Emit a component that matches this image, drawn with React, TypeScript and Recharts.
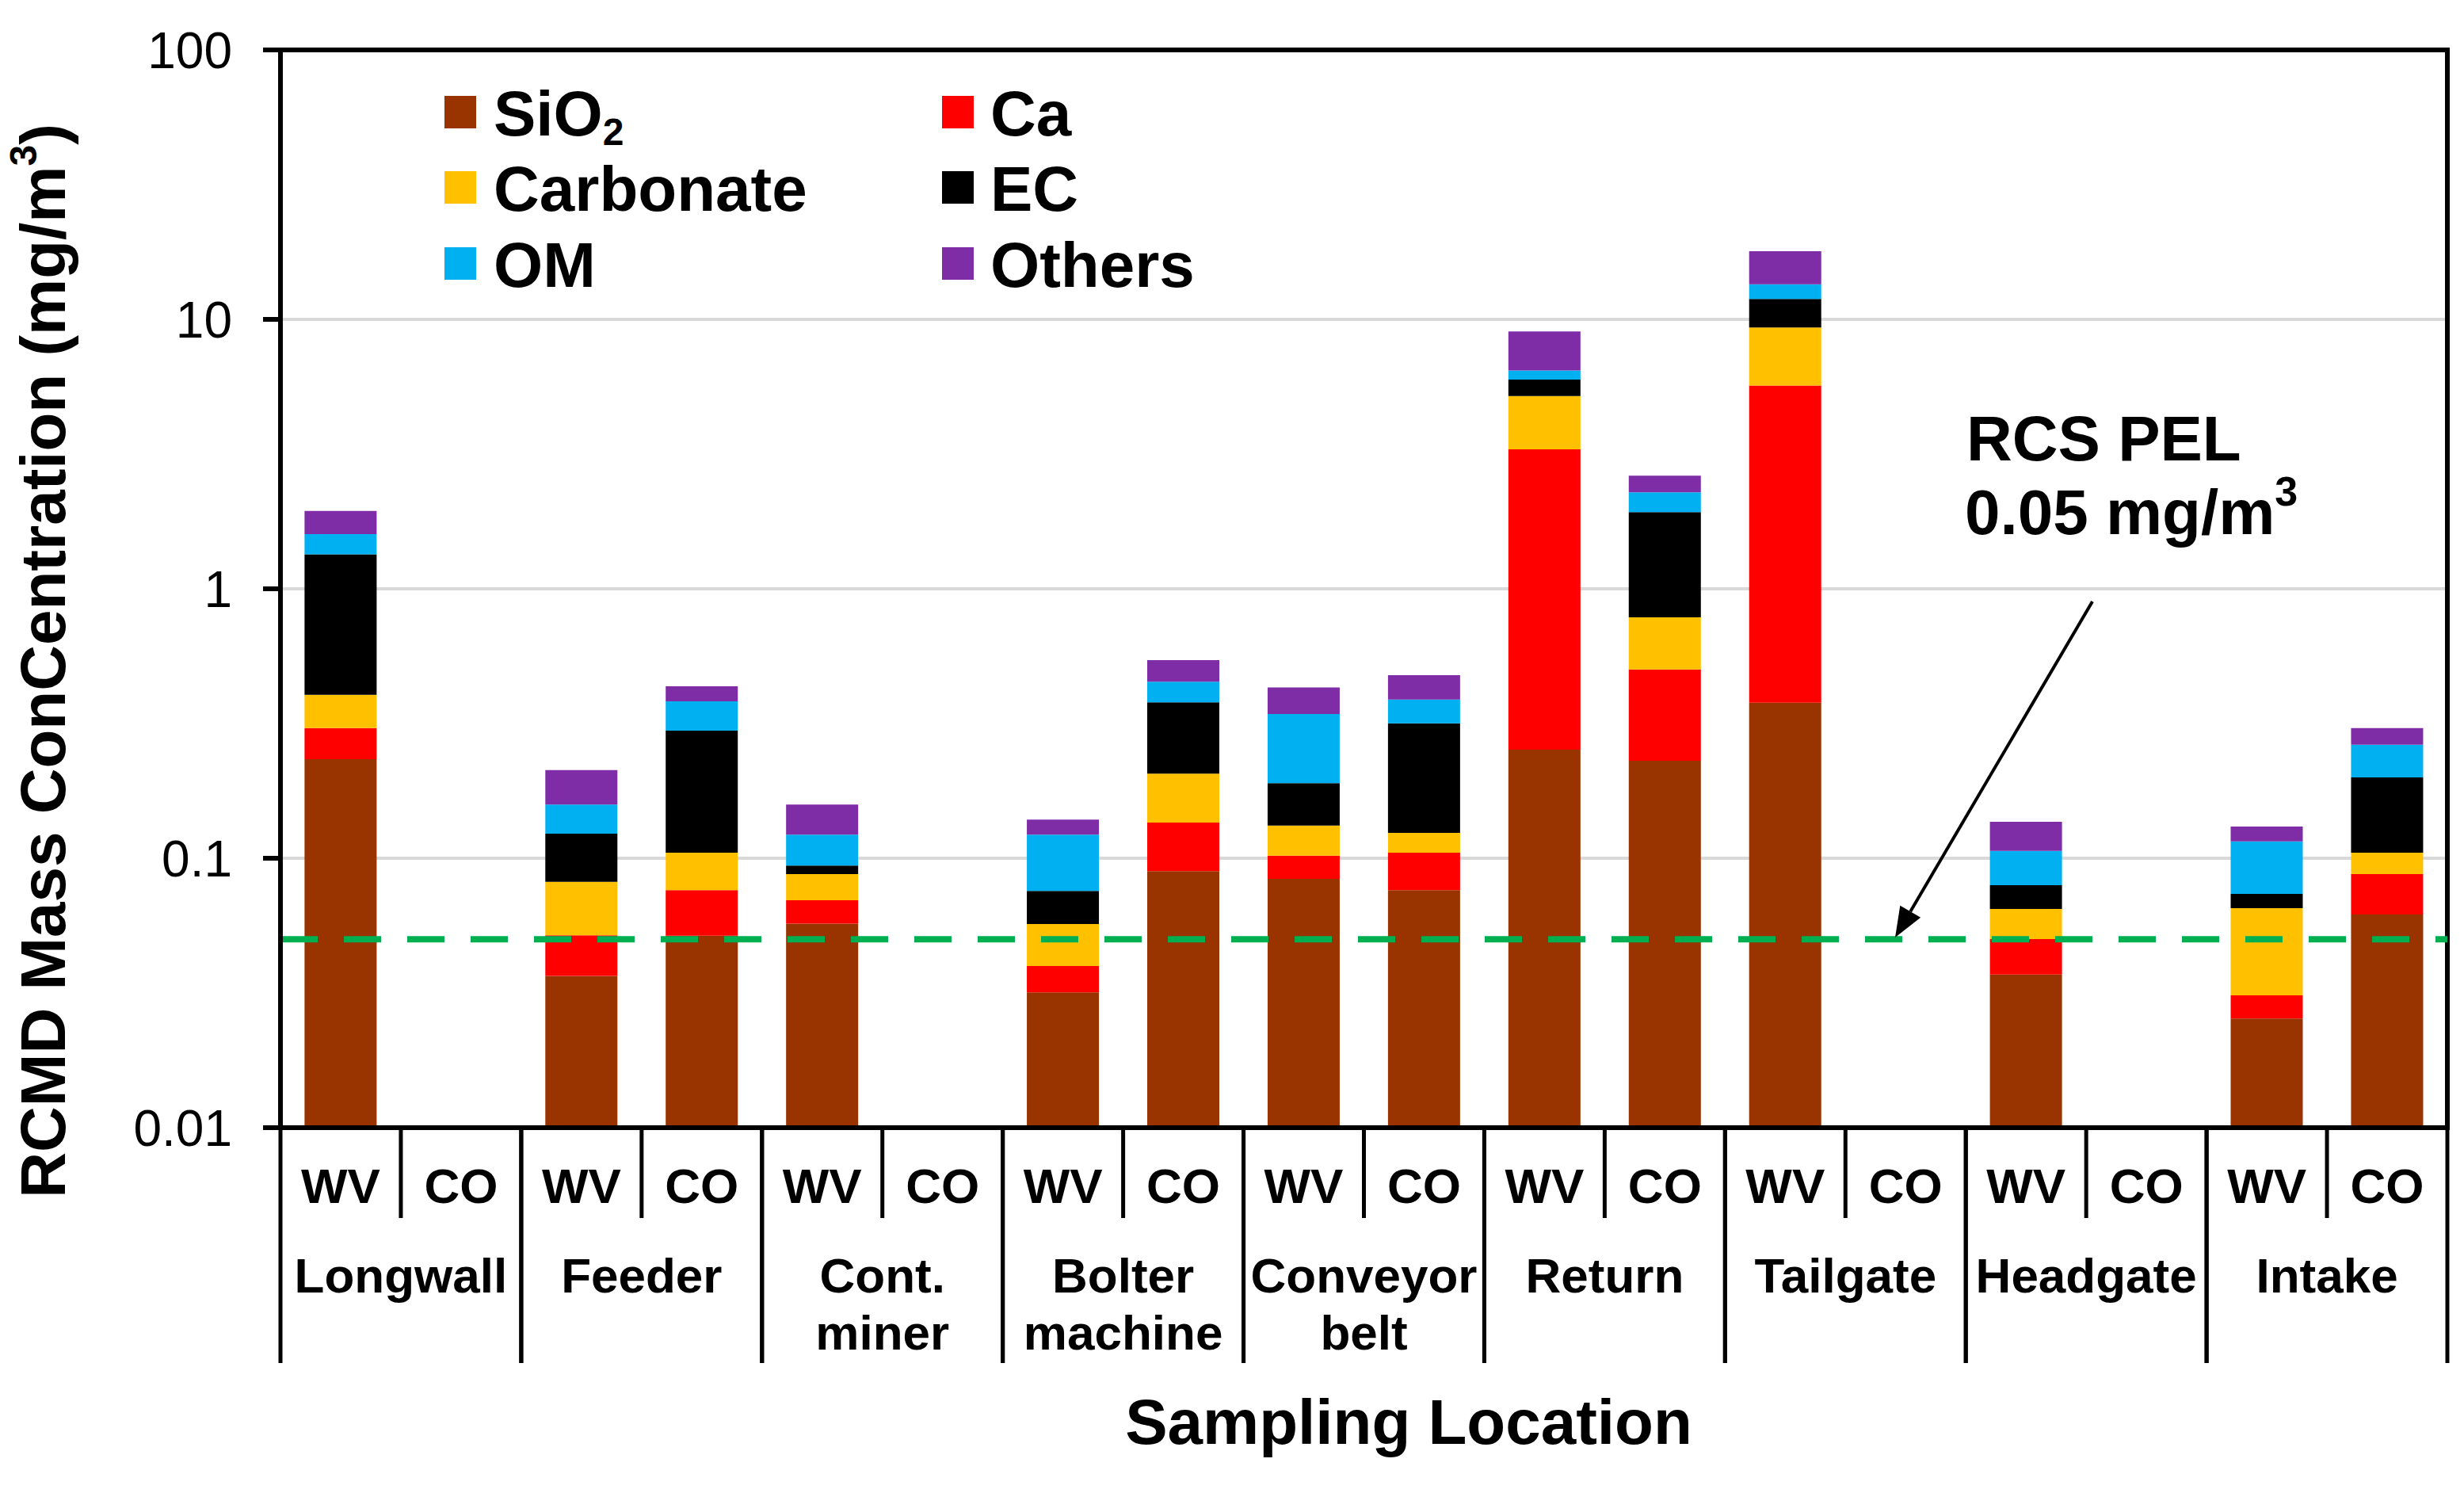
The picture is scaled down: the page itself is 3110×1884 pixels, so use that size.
import React from 'react';
import { Bar, BarChart, CartesianGrid, ReferenceArea, ReferenceLine, XAxis, YAxis } from 'recharts';

const W = 3110;
const H = 1884;
const PLOT_LEFT = 354;
const PLOT_RIGHT = 3089;
const PLOT_TOP = 63;
const PLOT_BOTTOM = 1423;
const FONT = '"Liberation Sans", Arial, Helvetica, sans-serif';

const GROUPS = ['Longwall', 'Feeder', 'Cont.\nminer', 'Bolter\nmachine', 'Conveyor\nbelt', 'Return', 'Tailgate', 'Headgate', 'Intake'];
const METHODS = ['WV', 'CO'];
const Y_TICKS = [0.01, 0.1, 1, 10, 100];
const PEL = 0.05;

// mg/m3, one entry per WV/CO slot (null = not sampled)
const SIO2 = [0.233, null, 0.0366, 0.0516, 0.0572, null, 0.0318, 0.0896, 0.0838, 0.0762, 0.253, 0.23, 0.378, null, 0.037, null, 0.0254, 0.0618];
const CA = [0.071, null, 0.0152, 0.0246, 0.0126, null, 0.008, 0.0461, 0.0184, 0.0287, 3.04, 0.272, 5.3, null, 0.0131, null, 0.0056, 0.0255];
const CARBONATE = [0.1, null, 0.0299, 0.0286, 0.0175, null, 0.0172, 0.0703, 0.03, 0.0193, 1.9, 0.282, 3.65, null, 0.0147, null, 0.0343, 0.0176];
const EC = [0.938, null, 0.0416, 0.1929, 0.0066, null, 0.0186, 0.173, 0.0578, 0.1928, 0.78, 1.141, 2.57, null, 0.0146, null, 0.0084, 0.0946];
const OM = [0.253, null, 0.0349, 0.0843, 0.0285, null, 0.0468, 0.073, 0.153, 0.071, 0.49, 0.355, 1.6, null, 0.027, null, 0.0417, 0.0642];
const OTHERS = [0.349, null, 0.0541, 0.0525, 0.0358, null, 0.0168, 0.092, 0.087, 0.09, 2.55, 0.35, 4.4, null, 0.0302, null, 0.0158, 0.0403];

const SERIES = [
  { key: 'SiO2', color: '#993300', values: SIO2 },
  { key: 'Ca', color: '#FF0000', values: CA },
  { key: 'Carbonate', color: '#FFC000', values: CARBONATE },
  { key: 'EC', color: '#000000', values: EC },
  { key: 'OM', color: '#00B0F0', values: OM },
  { key: 'Others', color: '#7F2DA6', values: OTHERS },
];

const ROWS = GROUPS.flatMap((group, gi) =>
  METHODS.map((method, mi) => {
    const i = gi * 2 + mi;
    const row: any = { key: `${group} ${method}`, group, method };
    SERIES.forEach((s) => {
      row[s.key] = s.values[i];
    });
    return row;
  })
);

const SLOT = (PLOT_RIGHT - PLOT_LEFT) / ROWS.length;

function CategoryTick({ x, y, index }: any) {
  const row = ROWS[index];
  if (!row) return null;
  const h = SLOT / 2;
  const lines = row.group.split('\n');
  const textProps = { textAnchor: 'middle' as const, fontSize: 62, fontWeight: 'bold', fontFamily: FONT, fill: '#000' };
  return (
    <g>
      <text x={x} y={y + 95} {...textProps}>
        {row.method}
      </text>
      {row.method === 'WV' ? (
        <>
          <line x1={x + h} x2={x + h} y1={y} y2={y + 114} stroke="#000" strokeWidth={5} />
          <line x1={x - h} x2={x - h} y1={y} y2={y + 297} stroke="#000" strokeWidth={5} />
          <text {...textProps}>
            {lines.map((l: string, k: number) => (
              <tspan key={k} x={x + h} y={y + 208 + k * 72}>
                {l}
              </tspan>
            ))}
          </text>
        </>
      ) : (
        <line x1={x + h} x2={x + h} y1={y} y2={y + 297} stroke="#000" strokeWidth={5} />
      )}
    </g>
  );
}

const yTitle = () => (
  <text
    x={82}
    y={834}
    transform="rotate(-90 82 834)"
    textAnchor="middle"
    fontSize={80}
    fontWeight="bold"
    fontFamily={FONT}
    fill="#000"
  >
    RCMD Mass ConCentration (mg/m
    <tspan fontSize={48} dy={-36}>
      3
    </tspan>
    <tspan dy={36}>)</tspan>
  </text>
);

const xTitle = () => (
  <text x={1778} y={1822} textAnchor="middle" fontSize={80} fontWeight="bold" fontFamily={FONT} fill="#000">
    Sampling Location
  </text>
);

const ARROW_FROM = [2641, 759];
const ARROW_TO = [2392, 1183];

function Arrow() {
  const [x1, y1] = ARROW_FROM;
  const [x2, y2] = ARROW_TO;
  const len = Math.hypot(x2 - x1, y2 - y1);
  const ux = (x2 - x1) / len;
  const uy = (y2 - y1) / len;
  const bx = x2 - ux * 38;
  const by = y2 - uy * 38;
  const px = -uy * 15;
  const py = ux * 15;
  return (
    <g>
      <line x1={x1} y1={y1} x2={bx} y2={by} stroke="#000" strokeWidth={4} />
      <polygon points={`${x2},${y2} ${bx + px},${by + py} ${bx - px},${by - py}`} fill="#000" />
    </g>
  );
}

function LegendBlock() {
  const cols = [
    { sq: 561, tx: 623 },
    { sq: 1189, tx: 1250 },
  ];
  const baselines = [171, 266, 362];
  return (
    <g fontFamily={FONT} fontWeight="bold" fontSize={80} fill="#000">
      {SERIES.map((s, i) => {
        const c = cols[i % 2];
        const b = baselines[Math.floor(i / 2)];
        return (
          <g key={s.key}>
            <rect x={c.sq} y={b - 50} width={40} height={41} fill={s.color} />
            <text x={c.tx} y={b}>
              {s.key === 'SiO2' ? (
                <>
                  SiO
                  <tspan fontSize={48} dy={12}>
                    2
                  </tspan>
                </>
              ) : (
                s.key
              )}
            </text>
          </g>
        );
      })}
    </g>
  );
}

export default function App() {
  return (
    <div style={{ position: 'relative', width: W, height: H, background: '#fff' }}>
      <style>{'body{margin:0;}'}</style>
      <BarChart
        width={W}
        height={H}
        data={ROWS}
        margin={{ top: PLOT_TOP, right: W - PLOT_RIGHT, bottom: 0, left: 0 }}
        barCategoryGap="20%"
      >
        <CartesianGrid vertical={false} stroke="#D9D9D9" strokeWidth={4} />
        <XAxis
          dataKey="key"
          interval={0}
          height={H - PLOT_BOTTOM}
          tickLine={false}
          tickSize={0}
          tickMargin={0}
          axisLine={{ stroke: '#000', strokeWidth: 6 }}
          tick={<CategoryTick />}
          label={{ content: xTitle }}
        />
        <YAxis
          type="number"
          scale="log"
          domain={[0.01, 100]}
          ticks={Y_TICKS}
          allowDataOverflow
          width={PLOT_LEFT}
          tickFormatter={(v: number) => String(v)}
          tick={{ fontSize: 64, fill: '#000', fontFamily: FONT }}
          tickSize={22}
          tickMargin={39}
          tickLine={{ stroke: '#000', strokeWidth: 6 }}
          axisLine={{ stroke: '#000', strokeWidth: 6 }}
          label={{ content: yTitle }}
        />
        {SERIES.map((s) => (
          <Bar key={s.key} dataKey={s.key} stackId="a" fill={s.color} isAnimationActive={false} />
        ))}
        <ReferenceLine y={PEL} stroke="#00B050" strokeWidth={8} strokeDasharray="47 33" />
        <ReferenceArea y1={0.01} y2={100} fill="none" stroke="#000" strokeWidth={6} />
      </BarChart>
      <svg width={W} height={H} style={{ position: 'absolute', left: 0, top: 0, pointerEvents: 'none' }}>
        <LegendBlock />
        <text fontFamily={FONT} fontWeight="bold" fontSize={80} fill="#000">
          <tspan x={2482} y={581}>
            RCS PEL
          </tspan>
          <tspan x={2480} y={674}>
            0.05 mg/m
          </tspan>
          <tspan fontSize={52} dy={-36}>
            3
          </tspan>
        </text>
        <Arrow />
      </svg>
    </div>
  );
}
